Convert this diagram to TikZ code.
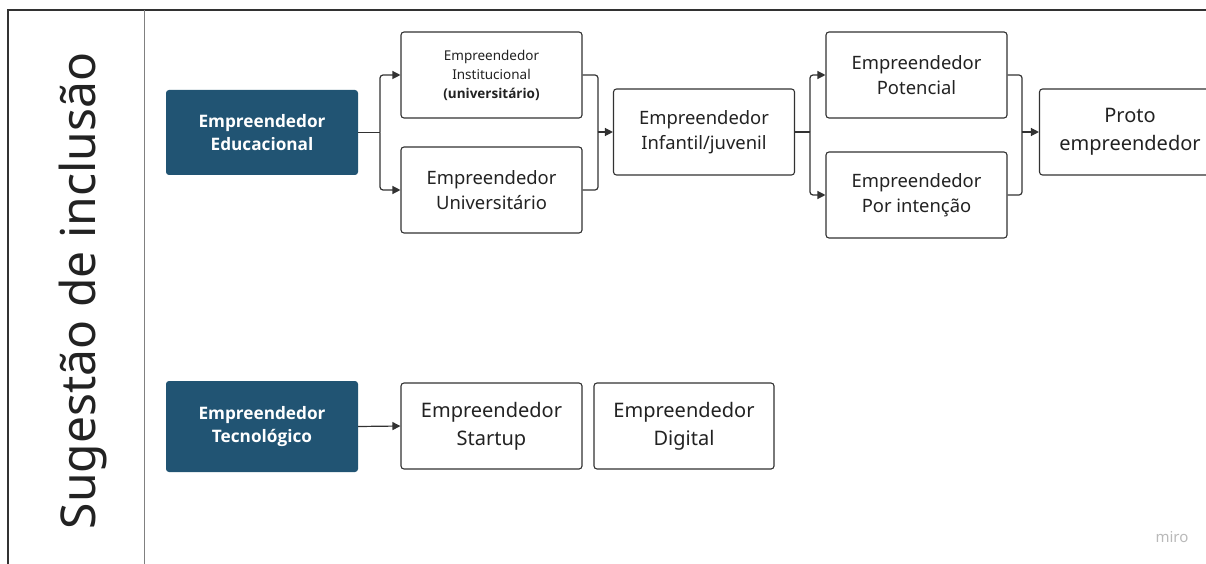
\documentclass[tikz,border=0pt]{standalone}
\usepackage{fontspec}
\setmainfont{Noto Sans}
\newfontfamily\osans{Open Sans}
\usetikzlibrary{arrows.meta}
\definecolor{darkbx}{RGB}{33,84,115}
\definecolor{linegray}{RGB}{50,50,50}
\definecolor{txtgray}{RGB}{34,34,34}
\begin{document}
\begin{tikzpicture}[x=1pt,y=-1pt,
  box/.style={draw=linegray, line width=1.1pt, rounded corners=3pt, fill=white,
    minimum width=181pt, minimum height=86pt, align=center, inner sep=0pt,
    text=txtgray, font=\fontsize{18.4}{25.5}\selectfont},
  bigbox/.style={box, font=\fontsize{20}{28}\selectfont},
  smallbox/.style={box, font=\fontsize{13.5}{19}\selectfont},
  dbox/.style={fill=darkbx, rounded corners=3pt, minimum width=192pt,
    minimum height=85pt, align=center, inner sep=0pt, text=white,
    font=\osans\bfseries\fontsize{17.2}{23.5}\selectfont},
  conn/.style={draw=linegray, line width=1.2pt, rounded corners=3pt},
  arr/.style={conn, -{Triangle[length=8pt,width=8pt]}}]
\useasboundingbox (0,0) rectangle (1206,564);
% frame
\draw[line width=1.4pt, linegray] (8,564) -- (8,10) -- (1206,10);
\draw[line width=0.9pt, gray] (144,10) -- (144,564);
\node[rotate=90, anchor=base, text=txtgray, font=\fontsize{48}{48}\selectfont] (title) at (95,291) {Sugestão de inclusão};
% nodes
\node[dbox] (edu) at (262,132.5) {Empreendedor\\Educacional};
\node[smallbox] (inst) at (491.5,75) {Empreendedor\\Institucional\\{\osans\bfseries (universitário)}};
\node[box] (univ) at (491.5,190) {Empreendedor\\Universitário};
\node[box] (inf) at (704,132) {Empreendedor\\Infantil/juvenil};
\node[box] (pot) at (916.5,75) {Empreendedor\\Potencial};
\node[box] (intn) at (916.5,195) {Empreendedor\\Por intenção};
\node[bigbox] (proto) at (1130,132) {Proto\\empreendedor};
\node[dbox, minimum height=91pt] (tec) at (262,426.5) {Empreendedor\\Tecnológico};
\node[bigbox] (start) at (491.5,426) {Empreendedor\\Startup};
\node[bigbox, minimum width=180pt] (dig) at (684,426) {Empreendedor\\Digital};
\node[text=gray!55, font=\fontsize{15}{15}\selectfont] (miro) at (1172,537) {miro};
% junctions
\coordinate (s1) at (380,132.5);
\coordinate (j1) at (598,132);
\coordinate (s2) at (810,132);
\coordinate (j2) at (1022,132);
% connectors
\draw[conn] (edu.east) -- (s1);
\draw[arr] (s1) |- (inst.west);
\draw[arr] (s1) |- (univ.west);
\draw[conn] (inst.east) -| (j1);
\draw[conn] (univ.east) -| (j1);
\draw[arr] (j1) -- (inf.west);
\draw[conn] (inf.east) -- (s2);
\draw[arr] (s2) |- (pot.west);
\draw[arr] (s2) |- (intn.west);
\draw[conn] (pot.east) -| (j2);
\draw[conn] (intn.east) -| (j2);
\draw[arr] (j2) -- (proto.west);
\draw[arr] (tec.east) -- (start.west);
\end{tikzpicture}
\end{document}
